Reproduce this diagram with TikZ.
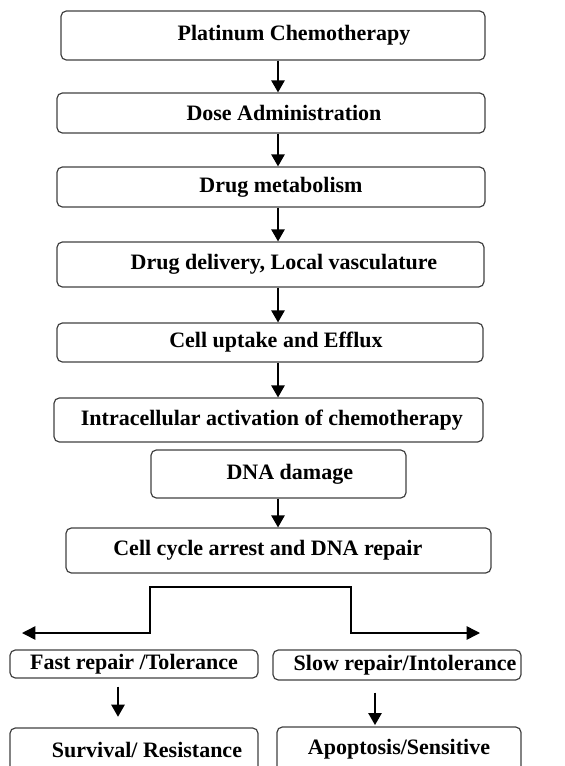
\documentclass[tikz,border=0pt]{standalone}
\usepackage{fontspec}
\setmainfont{Liberation Serif}
\usetikzlibrary{arrows.meta}

\tikzset{
  stage/.style={draw=black!75, line width=0.9pt, rounded corners=4pt, inner sep=0pt,
    font=\fontsize{16.5}{19}\selectfont\bfseries},
  flow/.style={-{Triangle[width=10pt,length=9pt]}, line width=1.1pt},
  split/.style={{Triangle[width=10pt,length=10pt]}-{Triangle[width=10pt,length=10pt]}, line width=1.1pt},
}

\begin{document}
\begin{tikzpicture}[x=0.75pt,y=-0.75pt]
  \clip (0,0) rectangle (564,766);

  % main column
  \node[stage, minimum width=318pt, minimum height=36.75pt] (platinum) at (273,35.5) {\hspace*{31.5pt}Platinum Chemotherapy};
  \node[stage, minimum width=321pt, minimum height=30pt] (dose) at (271,113) {\hspace*{19.5pt}Dose Administration};
  \node[stage, minimum width=321pt, minimum height=30pt] (metab) at (271,187) {\hspace*{15pt}Drug metabolism};
  \node[stage, minimum width=320.25pt, minimum height=33.75pt] (deliv) at (270.5,264.5) {\hspace*{20pt}Drug delivery, Local vasculature};
  \node[stage, minimum width=319.5pt, minimum height=29.25pt] (uptake) at (270,342.5) {\hspace*{9pt}Cell uptake and Efflux};
  \node[stage, minimum width=321.75pt, minimum height=33pt] (activ) at (268.5,420) {\hspace*{5pt}Intracellular activation of chemotherapy};
  \node[stage, minimum width=191.25pt, minimum height=36pt] (damage) at (278.5,474) {\hspace*{17pt}DNA damage};
  \node[stage, minimum width=318.75pt, minimum height=33.75pt] (arrest) at (278.5,550.5) {Cell cycle arrest and DNA repair\hspace*{16pt}};

  % two outcomes
  \node[stage, minimum width=186pt, minimum height=21pt] (fast) at (134,664) {Fast repair /Tolerance};
  \node[stage, minimum width=186pt, minimum height=22.5pt] (slow) at (397,665) {\hspace*{12pt}Slow repair/Intolerance};
  \node[stage, minimum width=186pt, minimum height=33pt] (survive) at (134,750) {\hspace*{19.5pt}Survival/ Resistance};
  \node[stage, minimum width=183pt, minimum height=33.75pt] (apopt) at (399,749.5) {Apoptosis/Sensitive};

  \coordinate (spine) at (278,0);
  \coordinate (leftdrop) at (118,0);
  \coordinate (rightdrop) at (375,0);

  \draw[flow] (platinum.south -| spine) -- (dose.north -| spine);
  \draw[flow] (dose.south -| spine) -- (metab.north -| spine);
  \draw[flow] (metab.south -| spine) -- (deliv.north -| spine);
  \draw[flow] (deliv.south -| spine) -- (uptake.north -| spine);
  \draw[flow] (uptake.south -| spine) -- (activ.north -| spine);
  \draw[flow] (damage.south -| spine) -- (arrest.north -| spine);

  % fork
  \coordinate (forkL) at (150,587);
  \coordinate (forkR) at (351,587);
  \coordinate (tolerEnd) at (22,633);
  \coordinate (intolEnd) at (480,633);
  \draw[split] (tolerEnd) -- (forkL |- tolerEnd) -- (forkL) -- (forkR) -- (forkR |- intolEnd) -- (intolEnd);

  \draw[flow, shorten <=6pt, shorten >=8pt] (fast.south -| leftdrop) -- (survive.north -| leftdrop);
  \draw[flow, shorten <=9pt, shorten >=1pt] (slow.south -| rightdrop) -- (apopt.north -| rightdrop);
\end{tikzpicture}
\end{document}
